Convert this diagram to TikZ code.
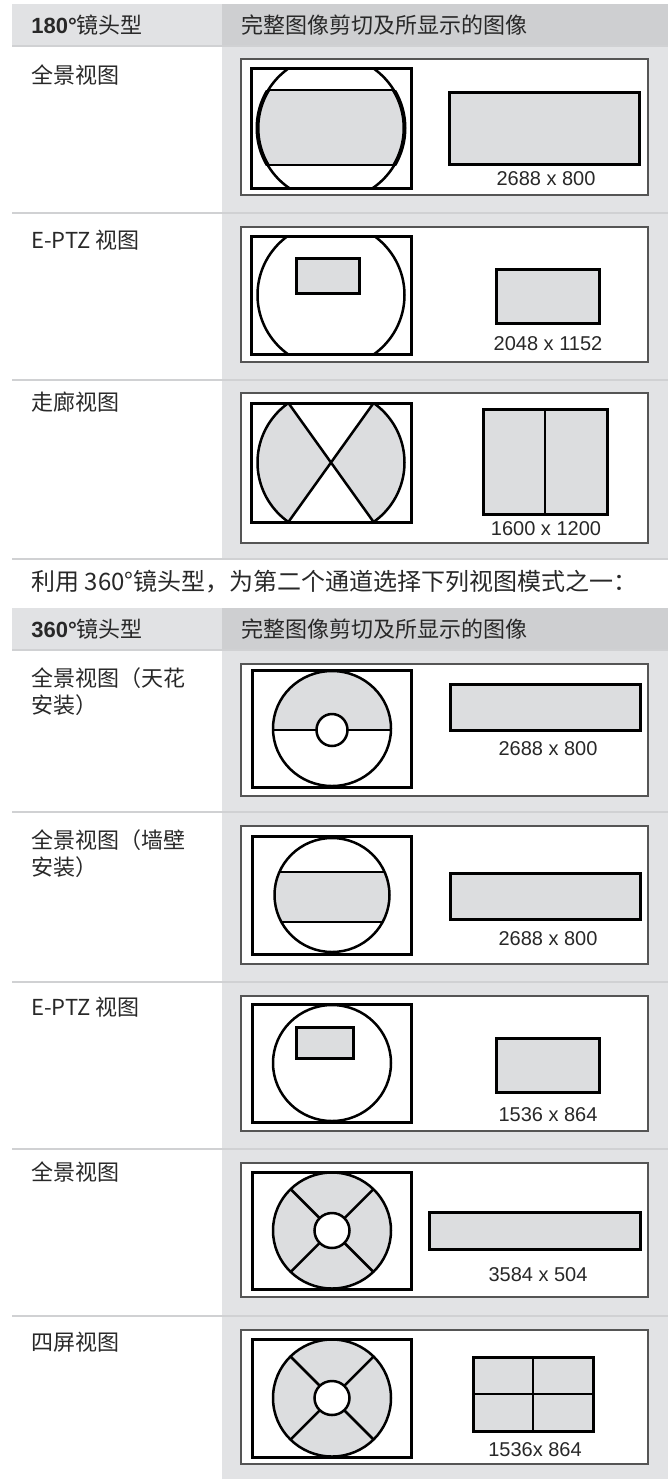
\documentclass[tikz,border=0pt]{standalone}
\usepackage{fontspec}
\setmainfont{Liberation Sans}
\newfontfamily\cjk{Noto Sans CJK SC}
\usepackage{xcolor}
\usepackage{tikz}
\usetikzlibrary{positioning}
\definecolor{colgray}{RGB}{226,227,229}
\definecolor{hdrlight}{RGB}{225,226,228}
\definecolor{hdrdark}{RGB}{206,207,209}
\definecolor{sepgray}{RGB}{208,209,211}
\definecolor{cropgray}{RGB}{220,221,223}
\definecolor{framegray}{RGB}{85,85,85}
\definecolor{txtgray}{RGB}{40,40,40}
\tikzstyle{frame} = [draw=framegray, line width=0.8pt, fill=white]
\tikzstyle{sensor} = [draw=black, line width=1.5pt]
\tikzstyle{lens} = [draw=black, line width=1.25pt]
\tikzstyle{crop} = [draw=black, line width=1.5pt, fill=cropgray]
\tikzstyle{sep} = [draw=sepgray, line width=1pt]
\tikzstyle{hdrtext} = [anchor=west, inner sep=0pt, text=txtgray, font=\fontsize{11}{13.5}\selectfont]
\tikzstyle{rowlabel} = [anchor=west, inner sep=0pt, text=txtgray, font=\cjk\fontsize{11}{13.5}\selectfont]
\tikzstyle{res} = [inner sep=0pt, text=txtgray, font=\fontsize{10}{12}\selectfont]

\begin{document}
\begin{tikzpicture}[x=0.5pt, y=-0.5pt]
    \useasboundingbox (0,0) rectangle (668,1479);
    % backgrounds
    \fill[hdrlight] (12,4) rectangle (222,45);
    \fill[hdrdark] (222,4) rectangle (668,45);
    \fill[colgray] (222,45) rectangle (668,559);
    \fill[hdrlight] (12,608) rectangle (222,649);
    \fill[hdrdark] (222,608) rectangle (668,649);
    \fill[colgray] (222,649) rectangle (668,1479);
    \draw[sep] (12,46) -- (668,46);
    \draw[sep] (12,213) -- (668,213);
    \draw[sep] (12,380) -- (668,380);
    \draw[sep] (12,559) -- (668,559);
    \draw[sep] (12,650) -- (668,650);
    \draw[sep] (12,812) -- (668,812);
    \draw[sep] (12,982) -- (668,982);
    \draw[sep] (12,1149) -- (668,1149);
    \draw[sep] (12,1316) -- (668,1316);
    % headers
    \node[hdrtext] (lensA) at (31,25) {{\bfseries 180°}{\cjk 镜头型}};
    \node[hdrtext] (cropA) at (241,25) {\cjk 完整图像剪切及所显示的图像};
    \node[hdrtext] (lensB) at (31,629) {{\bfseries 360°}{\cjk 镜头型}};
    \node[hdrtext] (cropB) at (241,629) {\cjk 完整图像剪切及所显示的图像};
    \node[rowlabel, font=\cjk\fontsize{12}{14}\selectfont] (note) at (31,582) {利用 360°镜头型，为第二个通道选择下列视图模式之一：};
    % row labels
    \node[rowlabel] (modePano) at (31,75) {全景视图};
    \node[rowlabel] (modePtz) at (31,240) {E-PTZ 视图};
    \node[rowlabel] (modeHall) at (31,402) {走廊视图};
    \node[rowlabel, anchor=north west, align=left] (modeCeil) at (31,667) {全景视图（天花\\安装）};
    \node[rowlabel, anchor=north west, align=left] (modeWall) at (31,829) {全景视图（墙壁\\安装）};
    \node[rowlabel] (modePtzB) at (31,1007) {E-PTZ 视图};
    \node[rowlabel] (modePanoB) at (31,1172) {全景视图};
    \node[rowlabel] (modeQuad) at (31,1342) {四屏视图};
    % 180 panorama
    \draw[frame] (241,59) rectangle (648,195);
    \begin{scope}
        \clip (251,68) rectangle (411,188);
        \begin{scope}
            \clip (331,128) ellipse [x radius=73.5, y radius=73];
            \fill[cropgray] (251,90) rectangle (411,165);
            \draw[lens] (251,90) -- (411,90) (251,165) -- (411,165);
        \end{scope}
        \draw[lens] (331,128) ellipse [x radius=73.5, y radius=73];
    \end{scope}
    \begin{scope}
        \clip (251,90) rectangle (411,165);
        \draw[black, line width=2pt] (331,128) ellipse [x radius=73.5, y radius=73];
    \end{scope}
    \draw[sensor] (251,68) rectangle (411,188);
    \draw[crop] (449,92) rectangle (639,164);
    \node[res] (resA) at (546,179) {2688 x 800};
    % 180 e-ptz
    \draw[frame] (241,227) rectangle (648,362);
    \begin{scope}
        \clip (251,236) rectangle (411,354);
        \draw[lens] (331,295) ellipse [x radius=73.5, y radius=73];
    \end{scope}
    \draw[sensor] (251,236) rectangle (411,354);
    \draw[crop] (296,258) rectangle (359,293);
    \draw[crop] (496,269) rectangle (599,323);
    \node[res] (resB) at (548,344) {2048 x 1152};
    % 180 corridor
    \draw[frame] (241,393) rectangle (648,543);
    \begin{scope}
        \clip (251,403) rectangle (411,522);
        \begin{scope}
            \clip (331,462.5) ellipse [x radius=73.5, y radius=73];
            \fill[cropgray] (331,462.5) -- (288.4,403) -- (251,403) -- (251,522) -- (288.4,522) -- cycle;
            \fill[cropgray] (331,462.5) -- (373.6,403) -- (411,403) -- (411,522) -- (373.6,522) -- cycle;
        \end{scope}
        \draw[lens] (331,462.5) ellipse [x radius=73.5, y radius=73];
    \end{scope}
    \draw[lens] (288.4,403) -- (373.6,522) (373.6,403) -- (288.4,522);
    \draw[sensor] (251,403) rectangle (411,522);
    \draw[crop] (483,409) rectangle (607,514);
    \draw[lens] (545,409) -- (545,514);
    \node[res] (resC) at (546,529) {1600 x 1200};
    % 360 panorama ceiling
    \draw[frame] (241,664) rectangle (648,796);
    \begin{scope}
        \clip (332,728.5) ellipse [x radius=59, y radius=57.5];
        \fill[cropgray] (252,670) rectangle (411,730);
        \draw[lens] (252,730) -- (411,730);
    \end{scope}
    \draw[lens, fill=white] (332,730) ellipse [x radius=15.5, y radius=16];
    \draw[lens] (332,728.5) ellipse [x radius=59, y radius=57.5];
    \draw[sensor] (252,670) rectangle (411,787);
    \draw[crop] (450,684) rectangle (640,730);
    \node[res] (resD) at (548,749) {2688 x 800};
    % 360 panorama wall
    \draw[frame] (241,826) rectangle (648,964);
    \begin{scope}
        \clip (332,895) ellipse [x radius=57.5, y radius=57];
        \fill[cropgray] (252,872) rectangle (411,922);
        \draw[lens] (252,872) -- (411,872) (252,922) -- (411,922);
    \end{scope}
    \draw[lens] (332,895) ellipse [x radius=57.5, y radius=57];
    \draw[sensor] (252,836) rectangle (411,954);
    \draw[crop] (450,873) rectangle (640,919);
    \node[res] (resE) at (548,939) {2688 x 800};
    % 360 e-ptz
    \draw[frame] (241,996) rectangle (648,1131);
    \draw[lens] (332,1063) ellipse [x radius=59, y radius=58];
    \draw[sensor] (252,1004) rectangle (411,1122);
    \draw[crop] (296,1027) rectangle (353,1058);
    \draw[crop] (496,1038) rectangle (599,1092);
    \node[res] (resF) at (548,1115) {1536 x 864};
    % 360 panorama
    \draw[frame] (241,1163) rectangle (648,1297);
    \fill[cropgray] (332,1230.5) ellipse [x radius=59, y radius=58];
    \begin{scope}
        \clip (332,1230.5) ellipse [x radius=59, y radius=58];
        \draw[lens] (272,1170.5) -- (392,1290.5) (392,1170.5) -- (272,1290.5);
    \end{scope}
    \draw[lens, fill=white] (332,1230.5) ellipse [x radius=17.5, y radius=17.5];
    \draw[lens] (332,1230.5) ellipse [x radius=59, y radius=58];
    \draw[sensor] (252,1172) rectangle (411,1289);
    \draw[crop] (429,1212) rectangle (640,1249);
    \node[res] (resG) at (538,1275) {3584 x 504};
    % 360 quad
    \draw[frame] (241,1330) rectangle (648,1464);
    \fill[cropgray] (332,1398) ellipse [x radius=59, y radius=58.5];
    \begin{scope}
        \clip (332,1398) ellipse [x radius=59, y radius=58.5];
        \draw[lens] (272,1338) -- (392,1458) (392,1338) -- (272,1458);
    \end{scope}
    \draw[lens, fill=white] (332,1398) ellipse [x radius=17.5, y radius=17];
    \draw[lens] (332,1398) ellipse [x radius=59, y radius=58.5];
    \draw[sensor] (252,1339) rectangle (411,1457);
    \draw[crop] (473,1357) rectangle (593,1431);
    \draw[lens] (533,1357) -- (533,1431) (473,1394) -- (593,1394);
    \node[res] (resH) at (535,1450) {1536x 864};
\end{tikzpicture}
\end{document}
